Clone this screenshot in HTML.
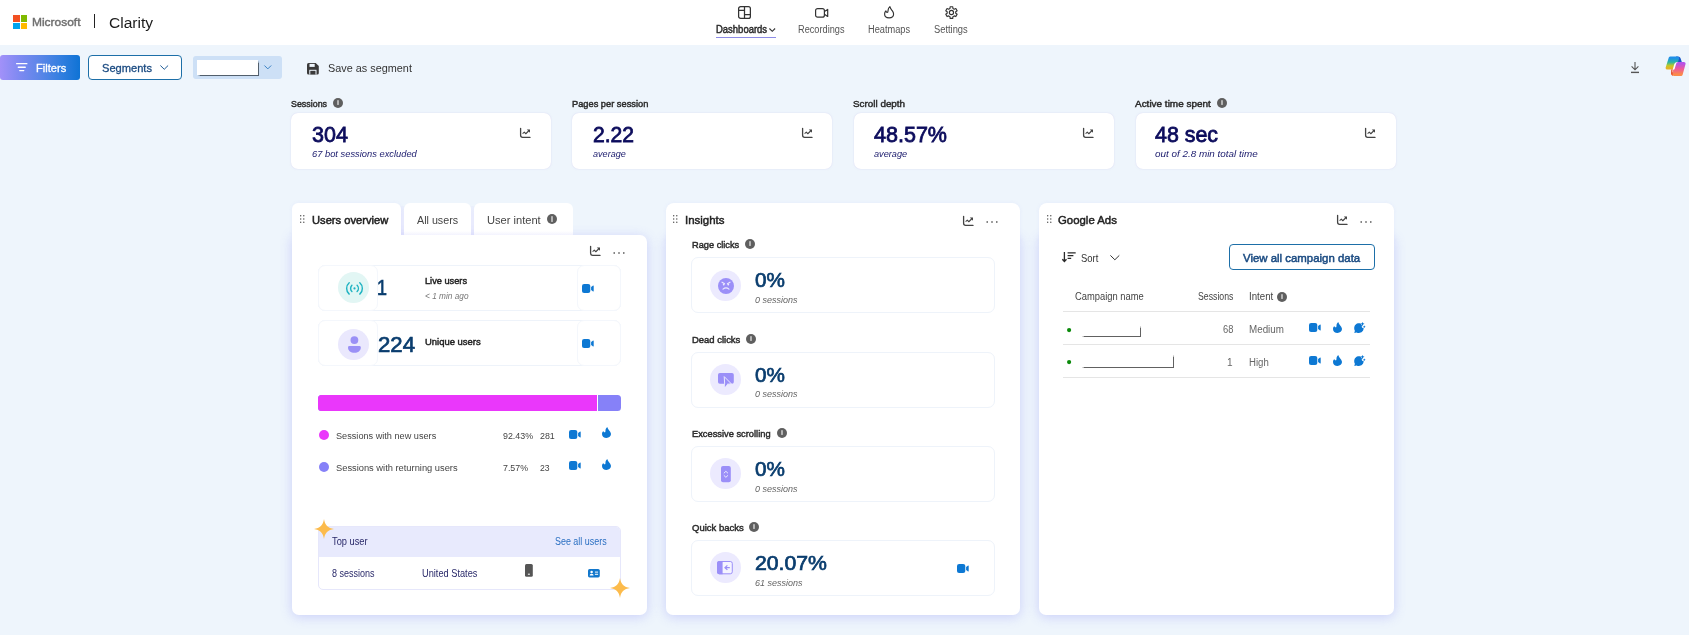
<!DOCTYPE html>
<html><head><meta charset="utf-8"><title>Clarity</title>
<style>
*{box-sizing:border-box;margin:0;padding:0}
html,body{width:1689px;height:635px;overflow:hidden}
body{position:relative;background:#eef5fc;font-family:"Liberation Sans",sans-serif;}
.a{position:absolute}
.t{position:absolute;white-space:nowrap;line-height:1;transform-origin:0 0;}
svg{position:absolute;overflow:visible}
.hdr{left:0;top:0;width:1689px;height:45px;background:#fff}
.stat{top:112.5px;width:259.8px;height:56.8px;background:#fff;border-radius:7px;box-shadow:0 0 1.5px rgba(190,180,230,.55);margin-left:-.3px}
.pbody{background:#fff;box-shadow:0 2px 12px rgba(110,110,245,.28)}
.phead{background:#fff;box-shadow:0 0 4px rgba(110,110,245,.07)}
.tab{top:203px;height:33px;background:#fff;border-radius:6px 6px 0 0;box-shadow:0 0 4px rgba(110,110,245,.07)}
.card{background:#fff;border:1px solid #eef3fa;border-radius:7px}
.circ{width:31px;height:31px;border-radius:50%}
.info{width:10px;height:10px;border-radius:50%;background:#5f5f5f}
.info:after{content:"";position:absolute;left:4px;top:2.2px;width:2px;height:5.3px;background:#b4b4b4;border-radius:.4px}
.hl{height:1px;background:#e5e5e5;left:1063px;width:307px}
.gd{width:4px;height:4px;border-radius:50%;background:#0b8a0b}
.red{background:#fff;box-shadow:.8px .8px 1px rgba(0,0,0,.62)}

.tl{position:absolute;left:0;top:0;width:1689px;height:635px;will-change:transform}

</style></head>
<body>


<!-- header -->
<div class="a hdr"></div>
<div class="a" style="left:13px;top:15px;width:6.7px;height:6.7px;background:#f25022"></div>
<div class="a" style="left:20.7px;top:15px;width:6.7px;height:6.7px;background:#7fba00"></div>
<div class="a" style="left:13px;top:22.6px;width:6.7px;height:6.7px;background:#00a4ef"></div>
<div class="a" style="left:20.7px;top:22.6px;width:6.7px;height:6.7px;background:#ffb900"></div>
<div class="a" style="left:94.2px;top:14px;width:1.2px;height:13.8px;background:#222"></div>
<!-- nav icons -->
<svg style="left:737.5px;top:6.4px" width="13" height="13" viewBox="0 0 13 13" fill="none" stroke="#333" stroke-width="1.25"><rect x=".62" y=".62" width="11.76" height="11.76" rx="2"/><path d="M6.5 .6 V12.4 M.6 4.4 H6.5 M6.5 8.5 H12.4"/></svg>
<svg style="left:814.6px;top:8px" width="13.3" height="9.8" viewBox="0 0 13.3 9.8" fill="none" stroke="#333" stroke-width="1.2" stroke-linejoin="round"><rect x=".6" y=".6" width="8.8" height="8.6" rx="2"/><path d="M9.4 3.6 L12.7 1.4 V8.4 L9.4 6.2"/></svg>
<svg style="left:883.8px;top:6.2px" width="10.2" height="12.5" viewBox="0 0 10.2 12.5" fill="none" stroke="#333" stroke-width="1.15" stroke-linejoin="round"><path d="M5.9 .6 C6.2 2.4 7.3 3.5 8.4 4.9 C9.2 6 9.6 6.9 9.6 8 C9.6 10.3 7.6 11.9 5.1 11.9 C2.6 11.9 .6 10.3 .6 8 C.6 6.8 1.1 5.7 1.9 4.9 C2.1 5.9 2.6 6.4 3.2 6.4 C4.2 6.4 4 5.2 4.1 4.1 C4.2 2.7 4.8 1.5 5.9 .6 Z"/></svg>
<svg style="left:944.7px;top:5.9px" width="12.9" height="13.1" viewBox="0 0 12.9 13.1" fill="none" stroke="#333" stroke-width="1.15" stroke-linejoin="round"><circle cx="6.45" cy="6.55" r="2.1"/><path d="M7.94 2.46 L7.74 0.74 L5.16 0.74 L4.96 2.46 L3.65 3.22 L2.06 2.53 L0.78 4.76 L2.17 5.79 L2.17 7.31 L0.78 8.34 L2.06 10.57 L3.65 9.88 L4.96 10.64 L5.16 12.36 L7.74 12.36 L7.94 10.64 L9.25 9.88 L10.84 10.57 L12.12 8.34 L10.73 7.31 L10.73 5.79 L12.12 4.76 L10.84 2.53 L9.25 3.22 Z"/></svg>
<svg style="left:769.3px;top:27.8px" width="6.5" height="4" viewBox="0 0 6.5 4" fill="none" stroke="#333" stroke-width="1.1"><path d="M.4 .5 L3.25 3.3 L6.1 .5"/></svg>
<div class="a" style="left:716px;top:36.7px;width:60px;height:1.3px;background:#8d8be6"></div>

<!-- toolbar -->
<div class="a" style="left:0;top:55.2px;width:79.5px;height:24.5px;border-radius:3px;background:linear-gradient(90deg,#a291f9 0%,#7d89f1 25%,#5b86e8 50%,#347fe0 75%,#0f73d5 100%)"></div>
<svg style="left:16.3px;top:62.8px" width="11.5" height="8.2" viewBox="0 0 11.5 8.2" fill="#fff"><rect x="0" y="0" width="11.5" height="1.3" rx=".6"/><rect x="1.6" y="3.6" width="8.3" height="1.3" rx=".6"/><rect x="3.1" y="6.9" width="5.3" height="1.3" rx=".6"/></svg>
<div class="a" style="left:88px;top:55px;width:94px;height:25px;border-radius:4px;background:#fff;border:1px solid #1d6fa8"></div>
<svg style="left:159.5px;top:64.8px" width="8.5" height="5" viewBox="0 0 8.5 5" fill="none" stroke="#1b5a96" stroke-width="1"><path d="M.4 .5 L4.25 4.3 L8.1 .5"/></svg>
<div class="a" style="left:193px;top:56px;width:89px;height:23px;border-radius:3px;background:#cde0f6"></div>
<div class="a" style="left:196.6px;top:60.4px;width:61.2px;height:14.2px;background:#fff;box-shadow:.8px .8px 1px rgba(30,40,50,.7)"></div>
<svg style="left:263.7px;top:65px" width="7.6" height="4.6" viewBox="0 0 7.6 4.6" fill="none" stroke="#3b82c4" stroke-width="1"><path d="M.4 .5 L3.8 3.9 L7.2 .5"/></svg>
<svg style="left:307px;top:63px" width="11.8" height="11.5" viewBox="0 0 11.8 11.5"><path d="M1.6 0 H8.7 L11.8 3.1 V9.9 Q11.8 11.5 10.2 11.5 H1.6 Q0 11.5 0 9.9 V1.6 Q0 0 1.6 0 Z" fill="#3a3a3a"/><rect x="2.5" y="0.9" width="5.2" height="3" fill="#eef5fc"/><rect x="2.3" y="6.8" width="7.2" height="4.7" fill="#eef5fc"/><rect x="3.3" y="7.8" width="5.2" height="3.7" fill="#3a3a3a"/></svg>
<svg style="left:1631px;top:61.7px" width="8" height="11.2" viewBox="0 0 8 11.2" fill="none" stroke="#555" stroke-width="1.1"><path d="M4 0 V7.6 M.6 4.4 L4 7.8 L7.4 4.4"/><path d="M0 10.4 H8" stroke-width="1.4"/></svg>
<!-- copilot logo -->
<svg style="left:1664.5px;top:56px" width="21" height="20.3" viewBox="0 0 21 20.3">
<defs>
<linearGradient id="cg1" x1="0" y1="0" x2="0" y2="1"><stop offset="0" stop-color="#1f8fe8"/><stop offset=".42" stop-color="#2bb6a4"/><stop offset=".78" stop-color="#c5c922"/><stop offset="1" stop-color="#e3b327"/></linearGradient>
<linearGradient id="cg2" x1="0" y1="0" x2="0" y2="1"><stop offset="0" stop-color="#b553e8"/><stop offset=".5" stop-color="#ee5a9a"/><stop offset="1" stop-color="#fb8a4a"/></linearGradient>
</defs>
<path d="M13 .6 C14.6 .6 15.4 1.6 15.9 3.2 L16.8 6 H12.4 L11 .6 Z" fill="#1857c9"/>
<path d="M5.4 2.1 H12.4 L9.6 11.9 H2.3 Z" fill="url(#cg1)" stroke="url(#cg1)" stroke-width="3.4" stroke-linejoin="round"/>
<path d="M6.2 13.6 H9 L8 18.4 C7.9 19.4 8.4 19.9 9 20 C7.2 20.1 6.3 19.2 6 17.8 Z" fill="#e8502c"/>
<path d="M12.4 7.6 H18.9 L16 18.3 H9.2 Z" fill="url(#cg2)" stroke="url(#cg2)" stroke-width="3.4" stroke-linejoin="round"/>
<path d="M13 5.9 C11.6 6.3 11.2 7.4 10.7 9.2 L9.6 13 C9.4 13.5 9 13.6 8.4 13.6 L7.4 17 C7.2 15.6 7.4 14.6 7.8 13.4 L9 9 C9.6 6.9 10.4 5.9 13 5.9 Z" fill="#fff"/>
</svg>

<!-- stat cards -->
<div class="a stat" style="left:291px"></div>
<div class="a stat" style="left:572.7px"></div>
<div class="a stat" style="left:854.3px"></div>
<div class="a stat" style="left:1136px"></div>
<svg style="left:519.9px;top:128.2px" width="10.5" height="10" viewBox="0 0 10.5 9.6" preserveAspectRatio="none"><path d="M0.6 0.3 V7 Q0.6 9 2.6 9 H10" fill="none" stroke="#444" stroke-width="1.3" stroke-linecap="round"/><path d="M2.6 5.4 L4.3 4 L5.8 5.5 L9.3 2.2" fill="none" stroke="#444" stroke-width="1.1" stroke-linejoin="round"/><path d="M6.8 1.4 H10 V4.6 Z" fill="#444"/></svg>
<svg style="left:801.6px;top:128.2px" width="10.5" height="10" viewBox="0 0 10.5 9.6" preserveAspectRatio="none"><path d="M0.6 0.3 V7 Q0.6 9 2.6 9 H10" fill="none" stroke="#444" stroke-width="1.3" stroke-linecap="round"/><path d="M2.6 5.4 L4.3 4 L5.8 5.5 L9.3 2.2" fill="none" stroke="#444" stroke-width="1.1" stroke-linejoin="round"/><path d="M6.8 1.4 H10 V4.6 Z" fill="#444"/></svg>
<svg style="left:1083.2px;top:128.2px" width="10.5" height="10" viewBox="0 0 10.5 9.6" preserveAspectRatio="none"><path d="M0.6 0.3 V7 Q0.6 9 2.6 9 H10" fill="none" stroke="#444" stroke-width="1.3" stroke-linecap="round"/><path d="M2.6 5.4 L4.3 4 L5.8 5.5 L9.3 2.2" fill="none" stroke="#444" stroke-width="1.1" stroke-linejoin="round"/><path d="M6.8 1.4 H10 V4.6 Z" fill="#444"/></svg>
<svg style="left:1364.9px;top:128.2px" width="10.5" height="10" viewBox="0 0 10.5 9.6" preserveAspectRatio="none"><path d="M0.6 0.3 V7 Q0.6 9 2.6 9 H10" fill="none" stroke="#444" stroke-width="1.3" stroke-linecap="round"/><path d="M2.6 5.4 L4.3 4 L5.8 5.5 L9.3 2.2" fill="none" stroke="#444" stroke-width="1.1" stroke-linejoin="round"/><path d="M6.8 1.4 H10 V4.6 Z" fill="#444"/></svg>
<div class="a info" style="left:332.7px;top:98px"></div>
<div class="a info" style="left:1217px;top:98px"></div>

<!-- PANEL 1 -->
<div class="a" style="left:400px;top:206px;width:5px;height:29px;background:linear-gradient(180deg,rgba(224,226,251,.3),#e9ebfd 30%)"></div>
<div class="a" style="left:470px;top:206px;width:5px;height:29px;background:linear-gradient(180deg,rgba(224,226,251,.3),#e9ebfd 30%)"></div>
<div class="a tab" style="left:292px;width:109px"></div>
<div class="a pbody" style="left:292px;top:235px;width:355px;height:379.5px;border-radius:0 7px 7px 7px"></div>
<div class="a" style="left:292px;top:210px;width:109px;height:32px;background:#fff"></div>
<div class="a tab"  style="left:404px;width:67px;height:32px;box-shadow:none"></div>
<div class="a tab" style="left:474px;width:99px;height:32px;box-shadow:none"></div>
<div class="a" style="left:404px;top:231px;width:67px;height:4px;background:linear-gradient(180deg,rgba(244,244,255,0),#f3f3fe)"></div>
<div class="a" style="left:474px;top:231px;width:99px;height:4px;background:linear-gradient(180deg,rgba(244,244,255,0),#f3f3fe)"></div>
<svg style="left:299.7px;top:214.9px" width="4.5" height="8" viewBox="0 0 4.5 8"><g fill="#4a4a4a"><circle cx=".7" cy=".7" r=".7"/><circle cx="3.8" cy=".7" r=".7"/><circle cx=".7" cy="4" r=".7"/><circle cx="3.8" cy="4" r=".7"/><circle cx=".7" cy="7.3" r=".7"/><circle cx="3.8" cy="7.3" r=".7"/></g></svg>
<div class="a info" style="left:547px;top:214.1px"></div>
<svg style="left:590px;top:246.2px" width="10.5" height="10" viewBox="0 0 10.5 9.6" preserveAspectRatio="none"><path d="M0.6 0.3 V7 Q0.6 9 2.6 9 H10" fill="none" stroke="#444" stroke-width="1.3" stroke-linecap="round"/><path d="M2.6 5.4 L4.3 4 L5.8 5.5 L9.3 2.2" fill="none" stroke="#444" stroke-width="1.1" stroke-linejoin="round"/><path d="M6.8 1.4 H10 V4.6 Z" fill="#444"/></svg>
<svg style="left:612.7px;top:251.5px" width="12" height="2" fill="#2a2a2a" viewBox="0 0 12 2"><circle cx="1.2" cy="1" r=".82"/><circle cx="6" cy="1" r=".82"/><circle cx="10.8" cy="1" r=".82"/></svg>

<div class="a card" style="left:318px;top:265px;width:303px;height:45.5px"></div>
<div class="a card" style="left:318px;top:320px;width:303px;height:45.5px"></div>
<div class="a card" style="left:318px;top:265px;width:60px;height:45.5px;border-color:#f4f7fc"></div>
<div class="a card" style="left:318px;top:320px;width:60px;height:45.5px;border-color:#f4f7fc"></div>
<div class="a card" style="left:577px;top:265px;width:44px;height:45.5px;border-color:#f4f7fc"></div>
<div class="a card" style="left:577px;top:320px;width:44px;height:45.5px;border-color:#f4f7fc"></div>
<div class="a circ" style="left:338.3px;top:272.4px;background:#e2f6f4"></div>
<div class="a circ" style="left:338.3px;top:328.5px;background:#eae8fd"></div>
<svg style="left:345.5px;top:282.2px" width="17" height="12.8" viewBox="0 0 17 12.8" fill="none" stroke="#1fb3c2" stroke-width="1.45" stroke-linecap="round"><path d="M3.2 .7 C-.2 3.6 -.2 9.2 3.2 12.1"/><path d="M13.8 .7 C17.2 3.6 17.2 9.2 13.8 12.1"/><path d="M5.9 3.3 C4.2 5 4.2 7.8 5.9 9.5"/><path d="M11.1 3.3 C12.8 5 12.8 7.8 11.1 9.5"/><circle cx="8.5" cy="6.4" r="1.1" fill="#1fb3c2" stroke="none"/></svg>
<svg style="left:347.8px;top:335.7px" width="12.8" height="17" viewBox="0 0 12.8 17" fill="#9a90f6"><circle cx="6.4" cy="4.1" r="3.9"/><path d="M1.4 10 H11.4 Q12.8 10 12.8 11.4 C12.8 14.6 10 16.8 6.4 16.8 C2.8 16.8 0 14.6 0 11.4 Q0 10 1.4 10 Z"/></svg>
<svg style="left:582.3px;top:283.5px" width="12" height="9" fill="#0d78d3" viewBox="0 0 12 9"><rect x="0" y="0" width="8.3" height="9" rx="2.1"/><path d="M9.1 3.1 L11.1 1.6 Q11.7 1.3 11.7 2 V7 Q11.7 7.7 11.1 7.4 L9.1 5.9 Z"/></svg>
<svg style="left:582.3px;top:338.5px" width="12" height="9" fill="#0d78d3" viewBox="0 0 12 9"><rect x="0" y="0" width="8.3" height="9" rx="2.1"/><path d="M9.1 3.1 L11.1 1.6 Q11.7 1.3 11.7 2 V7 Q11.7 7.7 11.1 7.4 L9.1 5.9 Z"/></svg>

<div class="a" style="left:318px;top:395px;width:303px;height:16px;border-radius:3.5px;background:#8681f8;overflow:hidden"><div class="a" style="left:0;top:0;width:279px;height:16px;background:#ea37fb;border-right:1px solid #fff;box-sizing:content-box"></div></div>
<div class="a" style="left:318.8px;top:429.7px;width:10px;height:10px;border-radius:50%;background:#ea37fb"></div>
<div class="a" style="left:318.8px;top:461.6px;width:10px;height:10px;border-radius:50%;background:#8681f8"></div>
<svg style="left:569.3px;top:429.8px" width="12" height="9" fill="#0d78d3" viewBox="0 0 12 9"><rect x="0" y="0" width="8.3" height="9" rx="2.1"/><path d="M9.1 3.1 L11.1 1.6 Q11.7 1.3 11.7 2 V7 Q11.7 7.7 11.1 7.4 L9.1 5.9 Z"/></svg>
<svg style="left:569.3px;top:461.3px" width="12" height="9" fill="#0d78d3" viewBox="0 0 12 9"><rect x="0" y="0" width="8.3" height="9" rx="2.1"/><path d="M9.1 3.1 L11.1 1.6 Q11.7 1.3 11.7 2 V7 Q11.7 7.7 11.1 7.4 L9.1 5.9 Z"/></svg>
<svg style="left:602px;top:427.3px" width="9" height="11" fill="#0d78d3" viewBox="0 0 9 11"><path d="M5.3 0 C5.6 1.6 6.6 2.6 7.6 3.9 C8.5 5.1 9 6 9 7.1 C9 9.4 7 11 4.5 11 C2 11 0 9.4 0 7 C0 5.8 0.5 4.8 1.3 4 C1.5 4.9 2 5.3 2.6 5.3 C3.6 5.3 3.4 4.2 3.5 3.2 C3.6 1.9 4.2 0.8 5.3 0 Z"/></svg>
<svg style="left:602px;top:459px" width="9" height="11" fill="#0d78d3" viewBox="0 0 9 11"><path d="M5.3 0 C5.6 1.6 6.6 2.6 7.6 3.9 C8.5 5.1 9 6 9 7.1 C9 9.4 7 11 4.5 11 C2 11 0 9.4 0 7 C0 5.8 0.5 4.8 1.3 4 C1.5 4.9 2 5.3 2.6 5.3 C3.6 5.3 3.4 4.2 3.5 3.2 C3.6 1.9 4.2 0.8 5.3 0 Z"/></svg>

<div class="a" style="left:318px;top:526px;width:303px;height:64px;border-radius:5px;border:1px solid #e6e7fb;background:#fff;overflow:hidden"><div class="a" style="left:0;top:0;width:303px;height:30px;background:#e8eafd"></div></div>
<svg style="left:314.1px;top:519.1px" width="20" height="20" viewBox="0 0 18 18"><path d="M9 0 C9.7 5.4 12.6 8.3 18 9 C12.6 9.7 9.7 12.6 9 18 C8.3 12.6 5.4 9.7 0 9 C5.4 8.3 8.3 5.4 9 0 Z" fill="#fcbb4c"/></svg>
<svg style="left:609.9px;top:577.8px" width="20" height="20" viewBox="0 0 18 18"><path d="M9 0 C9.7 5.4 12.6 8.3 18 9 C12.6 9.7 9.7 12.6 9 18 C8.3 12.6 5.4 9.7 0 9 C5.4 8.3 8.3 5.4 9 0 Z" fill="#fcbb4c"/></svg>
<svg style="left:525.3px;top:564px" width="7.8" height="12.8" viewBox="0 0 7.8 12.8"><rect x="0" y="0" width="7.8" height="12.8" rx="1.5" fill="#555"/><rect x="2.9" y="9.6" width="2" height="1.3" fill="#ddd"/></svg>
<svg style="left:588.2px;top:568.8px" width="11.8" height="8.4" viewBox="0 0 11.8 8.4"><rect x="0" y="0" width="11.8" height="8.4" rx="1.6" fill="#1277cc"/><circle cx="3.6" cy="3" r="1.25" fill="#fff"/><path d="M1.6 6.4 Q1.6 4.8 3.6 4.8 Q5.6 4.8 5.6 6.4 Z" fill="#fff"/><rect x="6.9" y="2.6" width="3.2" height="1" fill="#fff"/><rect x="6.9" y="4.8" width="3.2" height="1" fill="#fff"/></svg>

<!-- PANEL 2 -->
<div class="a phead" style="left:666px;top:203px;width:354px;height:40px;border-radius:8px 8px 0 0"></div>
<div class="a pbody" style="left:666px;top:237px;width:354px;height:377.5px;border-radius:0 0 7px 7px"></div>
<div class="a" style="left:666px;top:210px;width:354px;height:34px;background:#fff"></div>
<svg style="left:672.8px;top:214.9px" width="4.5" height="8" viewBox="0 0 4.5 8"><g fill="#4a4a4a"><circle cx=".7" cy=".7" r=".7"/><circle cx="3.8" cy=".7" r=".7"/><circle cx=".7" cy="4" r=".7"/><circle cx="3.8" cy="4" r=".7"/><circle cx=".7" cy="7.3" r=".7"/><circle cx="3.8" cy="7.3" r=".7"/></g></svg>
<svg style="left:962.8px;top:215.6px" width="10.5" height="10" viewBox="0 0 10.5 9.6" preserveAspectRatio="none"><path d="M0.6 0.3 V7 Q0.6 9 2.6 9 H10" fill="none" stroke="#444" stroke-width="1.3" stroke-linecap="round"/><path d="M2.6 5.4 L4.3 4 L5.8 5.5 L9.3 2.2" fill="none" stroke="#444" stroke-width="1.1" stroke-linejoin="round"/><path d="M6.8 1.4 H10 V4.6 Z" fill="#444"/></svg>
<svg style="left:986.4px;top:220.6px" width="12" height="2" fill="#2a2a2a" viewBox="0 0 12 2"><circle cx="1.2" cy="1" r=".82"/><circle cx="6" cy="1" r=".82"/><circle cx="10.8" cy="1" r=".82"/></svg>
<div class="a info" style="left:744.8px;top:239px"></div>
<div class="a info" style="left:745.9px;top:333.9px"></div>
<div class="a info" style="left:777px;top:428px"></div>
<div class="a info" style="left:749px;top:522px"></div>
<div class="a card" style="left:691px;top:257.3px;width:304px;height:56px"></div>
<div class="a card" style="left:691px;top:351.6px;width:304px;height:56px"></div>
<div class="a card" style="left:691px;top:445.9px;width:304px;height:56px"></div>
<div class="a card" style="left:691px;top:540.2px;width:304px;height:56px"></div>
<div class="a circ" style="left:710px;top:269.6px;background:#eceafe"></div>
<div class="a circ" style="left:710px;top:363.6px;background:#eceafe"></div>
<div class="a circ" style="left:710px;top:458.4px;background:#eceafe"></div>
<div class="a circ" style="left:710px;top:552.4px;background:#eceafe"></div>
<!-- rage face -->
<svg style="left:718px;top:277.8px" width="16" height="16" viewBox="0 0 16 16"><circle cx="8" cy="8" r="8" fill="#9b8ff8"/><g stroke="#eceafe" stroke-width="1.1" fill="none" stroke-linecap="round"><path d="M4 4.2 L6.6 5.8 M12 4.2 L9.4 5.8"/><path d="M5 11.2 Q8 8.6 11 11.2"/></g><circle cx="5.7" cy="6.6" r=".9" fill="#eceafe"/><circle cx="10.3" cy="6.6" r=".9" fill="#eceafe"/></svg>
<!-- dead click -->
<svg style="left:718px;top:373px" width="16" height="14" viewBox="0 0 16 14"><rect x="0" y="0" width="15.8" height="10.7" rx="1.8" fill="#9b8ff8"/><path d="M6.2 3.6 L6.9 14 L9.2 11.2 L13.4 10.9 Z" fill="#9b8ff8" stroke="#eceafe" stroke-width="1" stroke-linejoin="round"/><path d="M6.9 14 L9.2 10.9 L7 10.7 Z" fill="#9b8ff8"/></svg>
<!-- scroll -->
<svg style="left:720.9px;top:466px" width="9.8" height="16.3" viewBox="0 0 9.8 16.3"><rect x="0" y="0" width="9.8" height="16.3" rx="2" fill="#9b8ff8"/><path d="M3.1 7 L4.9 5.3 L6.7 7 M3.1 9.6 L4.9 11.3 L6.7 9.6" stroke="#eceafe" stroke-width="1" fill="none" stroke-linecap="round"/></svg>
<!-- quick back -->
<svg style="left:717.2px;top:561px" width="15.8" height="13.3" viewBox="0 0 15.8 13.3"><rect x=".5" y=".5" width="14.8" height="12.3" rx="2" fill="#f5f4ff" stroke="#9b8ff8" stroke-width="1"/><path d="M2 0 H5.6 V13.3 H2 Q0 13.3 0 11.3 V2 Q0 0 2 0 Z" fill="#9b8ff8"/><path d="M12.8 6.65 H8.4 M10.4 4.4 L8 6.65 L10.4 8.9" stroke="#9b8ff8" stroke-width="1.3" fill="none"/></svg>
<svg style="left:957.4px;top:563.9px" width="12" height="9" fill="#0d78d3" viewBox="0 0 12 9"><rect x="0" y="0" width="8.3" height="9" rx="2.1"/><path d="M9.1 3.1 L11.1 1.6 Q11.7 1.3 11.7 2 V7 Q11.7 7.7 11.1 7.4 L9.1 5.9 Z"/></svg>

<!-- PANEL 3 -->
<div class="a phead" style="left:1039px;top:203px;width:355px;height:40px;border-radius:8px 8px 0 0"></div>
<div class="a pbody" style="left:1039px;top:237px;width:355px;height:377.5px;border-radius:0 0 7px 7px"></div>
<div class="a" style="left:1039px;top:210px;width:355px;height:34px;background:#fff"></div>
<svg style="left:1046.8px;top:214.9px" width="4.5" height="8" viewBox="0 0 4.5 8"><g fill="#4a4a4a"><circle cx=".7" cy=".7" r=".7"/><circle cx="3.8" cy=".7" r=".7"/><circle cx=".7" cy="4" r=".7"/><circle cx="3.8" cy="4" r=".7"/><circle cx=".7" cy="7.3" r=".7"/><circle cx="3.8" cy="7.3" r=".7"/></g></svg>
<svg style="left:1336.7px;top:215.4px" width="10.5" height="10" viewBox="0 0 10.5 9.6" preserveAspectRatio="none"><path d="M0.6 0.3 V7 Q0.6 9 2.6 9 H10" fill="none" stroke="#444" stroke-width="1.3" stroke-linecap="round"/><path d="M2.6 5.4 L4.3 4 L5.8 5.5 L9.3 2.2" fill="none" stroke="#444" stroke-width="1.1" stroke-linejoin="round"/><path d="M6.8 1.4 H10 V4.6 Z" fill="#444"/></svg>
<svg style="left:1360.3px;top:220.6px" width="12" height="2" fill="#2a2a2a" viewBox="0 0 12 2"><circle cx="1.2" cy="1" r=".82"/><circle cx="6" cy="1" r=".82"/><circle cx="10.8" cy="1" r=".82"/></svg>
<svg style="left:1061.7px;top:251.5px" width="13.7" height="10.2" viewBox="0 0 13.7 10.2" fill="none" stroke="#2a2a2a" stroke-width="1.3"><path d="M2.4 0 V9.4 M.3 7.2 L2.4 9.5 L4.5 7.2"/><path d="M5.6 .8 H13.7 M5.6 3.6 H11.4 M5.6 6.4 H9.2"/></svg>
<svg style="left:1109.9px;top:255px" width="9.7" height="5.4" viewBox="0 0 9.7 5.4" fill="none" stroke="#333" stroke-width="1"><path d="M.4 .4 L4.85 4.8 L9.3 .4"/></svg>
<div class="a" style="left:1229px;top:244px;width:146px;height:26px;border-radius:4px;border:1px solid #1d6fa8;background:#fff"></div>
<div class="a info" style="left:1276.8px;top:292px"></div>
<div class="a hl" style="top:311px"></div>
<div class="a hl" style="top:344px"></div>
<div class="a hl" style="top:377px"></div>
<svg style="left:1067.2px;top:327.6px" width="4.2" height="4.2"><circle cx="2.1" cy="2.1" r="2.1" fill="#0b8a0b"/></svg>
<svg style="left:1067.2px;top:360.2px" width="4.2" height="4.2"><circle cx="2.1" cy="2.1" r="2.1" fill="#0b8a0b"/></svg>
<div class="a red" style="left:1080.6px;top:324.6px;width:59px;height:11.6px"></div>
<div class="a red" style="left:1080.6px;top:354.2px;width:92px;height:12.6px"></div>
<svg style="left:1309.1px;top:323px" width="12" height="9" fill="#0d78d3" viewBox="0 0 12 9"><rect x="0" y="0" width="8.3" height="9" rx="2.1"/><path d="M9.1 3.1 L11.1 1.6 Q11.7 1.3 11.7 2 V7 Q11.7 7.7 11.1 7.4 L9.1 5.9 Z"/></svg>
<svg style="left:1309.1px;top:356.1px" width="12" height="9" fill="#0d78d3" viewBox="0 0 12 9"><rect x="0" y="0" width="8.3" height="9" rx="2.1"/><path d="M9.1 3.1 L11.1 1.6 Q11.7 1.3 11.7 2 V7 Q11.7 7.7 11.1 7.4 L9.1 5.9 Z"/></svg>
<svg style="left:1333.3px;top:322px" width="9" height="11" fill="#0d78d3" viewBox="0 0 9 11"><path d="M5.3 0 C5.6 1.6 6.6 2.6 7.6 3.9 C8.5 5.1 9 6 9 7.1 C9 9.4 7 11 4.5 11 C2 11 0 9.4 0 7 C0 5.8 0.5 4.8 1.3 4 C1.5 4.9 2 5.3 2.6 5.3 C3.6 5.3 3.4 4.2 3.5 3.2 C3.6 1.9 4.2 0.8 5.3 0 Z"/></svg>
<svg style="left:1333.3px;top:355.1px" width="9" height="11" fill="#0d78d3" viewBox="0 0 9 11"><path d="M5.3 0 C5.6 1.6 6.6 2.6 7.6 3.9 C8.5 5.1 9 6 9 7.1 C9 9.4 7 11 4.5 11 C2 11 0 9.4 0 7 C0 5.8 0.5 4.8 1.3 4 C1.5 4.9 2 5.3 2.6 5.3 C3.6 5.3 3.4 4.2 3.5 3.2 C3.6 1.9 4.2 0.8 5.3 0 Z"/></svg>
<svg style="left:1354px;top:322px" width="11.5" height="11" fill="#0d78d3" viewBox="0 0 11.5 11"><path d="M4.9 1.3 C5.6 1.3 6.3 1.45 6.9 1.7 L7.4 3.1 L8.9 3.7 L7.6 4.5 L8.3 6 L9.5 5.5 C9.6 5.9 9.6 6.1 9.6 6.3 C9.6 9 7.5 11 4.9 11 C4.1 11 3.3 10.8 2.6 10.4 L0.3 11 L0.9 8.8 C0.5 8.1 0.2 7.2 0.2 6.2 C0.2 3.4 2.3 1.3 4.9 1.3 Z"/><path d="M8.5 -.1 L9.15 1.15 L10.5 1.8 L9.15 2.45 L8.5 3.7 L7.85 2.45 L6.5 1.8 L7.85 1.15 Z"/><path d="M10.3 3.5 L10.75 4.35 L11.6 4.8 L10.75 5.25 L10.3 6.1 L9.85 5.25 L9 4.8 L9.85 4.35 Z"/></svg>
<svg style="left:1354px;top:355.1px" width="11.5" height="11" fill="#0d78d3" viewBox="0 0 11.5 11"><path d="M4.9 1.3 C5.6 1.3 6.3 1.45 6.9 1.7 L7.4 3.1 L8.9 3.7 L7.6 4.5 L8.3 6 L9.5 5.5 C9.6 5.9 9.6 6.1 9.6 6.3 C9.6 9 7.5 11 4.9 11 C4.1 11 3.3 10.8 2.6 10.4 L0.3 11 L0.9 8.8 C0.5 8.1 0.2 7.2 0.2 6.2 C0.2 3.4 2.3 1.3 4.9 1.3 Z"/><path d="M8.5 -.1 L9.15 1.15 L10.5 1.8 L9.15 2.45 L8.5 3.7 L7.85 2.45 L6.5 1.8 L7.85 1.15 Z"/><path d="M10.3 3.5 L10.75 4.35 L11.6 4.8 L10.75 5.25 L10.3 6.1 L9.85 5.25 L9 4.8 L9.85 4.35 Z"/></svg>

<!-- text -->
<div class="tl">
<span class="t" id="t0" style="left:31.50px;top:17.20px;font-size:11px;color:#6f6f6f;-webkit-text-stroke:0.4px #6f6f6f;transform:scaleX(1.0868);">Microsoft</span>
<span class="t" id="t1" style="left:108.90px;top:14.60px;font-size:15.5px;color:#1b1b1b;transform:scaleX(1.0041);">Clarity</span>
<span class="t" id="t2" style="left:716.00px;top:25.20px;font-size:10px;color:#2a2a2a;-webkit-text-stroke:0.45px #2a2a2a;transform:scaleX(0.9477);">Dashboards</span>
<span class="t" id="t3" style="left:797.70px;top:25.20px;font-size:10px;color:#555;transform:scaleX(0.9191);">Recordings</span>
<span class="t" id="t4" style="left:868.40px;top:25.20px;font-size:10px;color:#555;transform:scaleX(0.9237);">Heatmaps</span>
<span class="t" id="t5" style="left:934.10px;top:25.20px;font-size:10px;color:#555;transform:scaleX(0.9325);">Settings</span>
<span class="t" id="t6" style="left:36.10px;top:62.80px;font-size:10.5px;color:#fff;-webkit-text-stroke:0.3px #fff;transform:scaleX(1.0562);">Filters</span>
<span class="t" id="t7" style="left:102.00px;top:62.60px;font-size:10.5px;color:#1b4b82;-webkit-text-stroke:0.3px #1b4b82;transform:scaleX(1.0575);">Segments</span>
<span class="t" id="t8" style="left:327.70px;top:62.90px;font-size:10.7px;color:#333;transform:scaleX(1.0160);">Save as segment</span>
<span class="t" id="t9" style="left:290.50px;top:99.20px;font-size:9.7px;color:#2a2a2a;-webkit-text-stroke:0.45px #2a2a2a;transform:scaleX(0.9157);">Sessions</span>
<span class="t" id="t10" style="left:571.60px;top:99.20px;font-size:9.7px;color:#2a2a2a;-webkit-text-stroke:0.45px #2a2a2a;transform:scaleX(0.9573);">Pages per session</span>
<span class="t" id="t11" style="left:853.40px;top:99.20px;font-size:9.7px;color:#2a2a2a;-webkit-text-stroke:0.45px #2a2a2a;transform:scaleX(1.0181);">Scroll depth</span>
<span class="t" id="t12" style="left:1135.20px;top:99.20px;font-size:9.7px;color:#2a2a2a;-webkit-text-stroke:0.45px #2a2a2a;transform:scaleX(1.0276);">Active time spent</span>
<span class="t" id="t13" style="left:311.60px;top:124.10px;font-size:22.5px;color:#0c0c5c;-webkit-text-stroke:0.8px #0c0c5c;transform:scaleX(0.9561);">304</span>
<span class="t" id="t14" style="left:592.50px;top:124.10px;font-size:22.5px;color:#0c0c5c;-webkit-text-stroke:0.8px #0c0c5c;transform:scaleX(0.9384);">2.22</span>
<span class="t" id="t15" style="left:874.00px;top:124.10px;font-size:22.5px;color:#0c0c5c;-webkit-text-stroke:0.8px #0c0c5c;transform:scaleX(0.9566);">48.57%</span>
<span class="t" id="t16" style="left:1155.40px;top:124.10px;font-size:22.5px;color:#0c0c5c;-webkit-text-stroke:0.8px #0c0c5c;transform:scaleX(0.9503);">48 sec</span>
<span class="t" id="t17" style="left:311.60px;top:149.10px;font-size:9.4px;color:#1a1a6c;font-style:italic;transform:scaleX(0.9954);">67 bot sessions excluded</span>
<span class="t" id="t18" style="left:592.50px;top:149.10px;font-size:9.4px;color:#1a1a6c;font-style:italic;transform:scaleX(0.9678);">average</span>
<span class="t" id="t19" style="left:874.00px;top:149.10px;font-size:9.4px;color:#1a1a6c;font-style:italic;transform:scaleX(0.9796);">average</span>
<span class="t" id="t20" style="left:1155.40px;top:149.10px;font-size:9.4px;color:#1a1a6c;font-style:italic;transform:scaleX(1.0538);">out of 2.8 min total time</span>
<span class="t" id="t21" style="left:311.60px;top:214.80px;font-size:11px;color:#222;-webkit-text-stroke:0.5px #222;transform:scaleX(1.0135);">Users overview</span>
<span class="t" id="t22" style="left:417.00px;top:214.80px;font-size:11px;color:#444;transform:scaleX(0.9742);">All users</span>
<span class="t" id="t23" style="left:487.30px;top:214.80px;font-size:11px;color:#444;transform:scaleX(1.0093);">User intent</span>
<span class="t" id="t24" style="left:376.80px;top:277.30px;font-size:22px;color:#0a3d6e;-webkit-text-stroke:0.7px #0a3d6e;transform:scaleX(0.8163);">1</span>
<span class="t" id="t25" style="left:378.00px;top:333.80px;font-size:22px;color:#0a3d6e;-webkit-text-stroke:0.7px #0a3d6e;transform:scaleX(1.0077);">224</span>
<span class="t" id="t26" style="left:425.30px;top:276.00px;font-size:9.5px;color:#222;-webkit-text-stroke:0.45px #222;transform:scaleX(0.9697);">Live users</span>
<span class="t" id="t27" style="left:425.30px;top:292.00px;font-size:8.6px;color:#777;font-style:italic;transform:scaleX(0.9633);">&lt; 1 min ago</span>
<span class="t" id="t28" style="left:425.30px;top:337.20px;font-size:9.5px;color:#222;-webkit-text-stroke:0.45px #222;transform:scaleX(0.9949);">Unique users</span>
<span class="t" id="t29" style="left:335.80px;top:430.80px;font-size:9.6px;color:#444;transform:scaleX(0.9539);">Sessions with new users</span>
<span class="t" id="t30" style="left:502.90px;top:430.80px;font-size:9.6px;color:#444;transform:scaleX(0.9248);">92.43%</span>
<span class="t" id="t31" style="left:540.00px;top:430.80px;font-size:9.6px;color:#444;transform:scaleX(0.9241);">281</span>
<span class="t" id="t32" style="left:335.80px;top:463.00px;font-size:9.6px;color:#444;transform:scaleX(0.9704);">Sessions with returning users</span>
<span class="t" id="t33" style="left:502.90px;top:463.00px;font-size:9.6px;color:#444;transform:scaleX(0.9190);">7.57%</span>
<span class="t" id="t34" style="left:540.00px;top:463.00px;font-size:9.6px;color:#444;transform:scaleX(0.8996);">23</span>
<span class="t" id="t35" style="left:331.50px;top:537.00px;font-size:10px;color:#2a2a6a;transform:scaleX(0.9281);">Top user</span>
<span class="t" id="t36" style="left:555.30px;top:537.00px;font-size:10px;color:#2a6fc2;transform:scaleX(0.8925);">See all users</span>
<span class="t" id="t37" style="left:331.50px;top:569.00px;font-size:10px;color:#2a2a6a;transform:scaleX(0.8995);">8 sessions</span>
<span class="t" id="t38" style="left:421.50px;top:569.00px;font-size:10px;color:#2a2a6a;transform:scaleX(0.9226);">United States</span>
<span class="t" id="t39" style="left:684.90px;top:215.00px;font-size:11px;color:#222;-webkit-text-stroke:0.45px #222;transform:scaleX(1.0390);">Insights</span>
<span class="t" id="t40" style="left:691.60px;top:240.20px;font-size:9.7px;color:#2a2a2a;-webkit-text-stroke:0.45px #2a2a2a;transform:scaleX(0.9529);">Rage clicks</span>
<span class="t" id="t41" style="left:691.60px;top:334.50px;font-size:9.7px;color:#2a2a2a;-webkit-text-stroke:0.45px #2a2a2a;transform:scaleX(0.9751);">Dead clicks</span>
<span class="t" id="t42" style="left:691.60px;top:428.80px;font-size:9.7px;color:#2a2a2a;-webkit-text-stroke:0.45px #2a2a2a;transform:scaleX(0.9604);">Excessive scrolling</span>
<span class="t" id="t43" style="left:691.60px;top:523.10px;font-size:9.7px;color:#2a2a2a;-webkit-text-stroke:0.45px #2a2a2a;transform:scaleX(0.9798);">Quick backs</span>
<span class="t" id="t44" style="left:754.50px;top:270.30px;font-size:20.5px;color:#0a3d6e;-webkit-text-stroke:0.7px #0a3d6e;transform:scaleX(1.0088);">0%</span>
<span class="t" id="t45" style="left:754.50px;top:364.60px;font-size:20.5px;color:#0a3d6e;-webkit-text-stroke:0.7px #0a3d6e;transform:scaleX(1.0088);">0%</span>
<span class="t" id="t46" style="left:754.50px;top:458.90px;font-size:20.5px;color:#0a3d6e;-webkit-text-stroke:0.7px #0a3d6e;transform:scaleX(1.0088);">0%</span>
<span class="t" id="t47" style="left:754.50px;top:553.20px;font-size:20.5px;color:#0a3d6e;-webkit-text-stroke:0.7px #0a3d6e;transform:scaleX(1.0355);">20.07%</span>
<span class="t" id="t48" style="left:754.50px;top:295.00px;font-size:9.5px;color:#666;font-style:italic;transform:scaleX(0.9467);">0 sessions</span>
<span class="t" id="t49" style="left:754.50px;top:389.30px;font-size:9.5px;color:#666;font-style:italic;transform:scaleX(0.9467);">0 sessions</span>
<span class="t" id="t50" style="left:754.50px;top:483.60px;font-size:9.5px;color:#666;font-style:italic;transform:scaleX(0.9467);">0 sessions</span>
<span class="t" id="t51" style="left:754.50px;top:577.90px;font-size:9.5px;color:#666;font-style:italic;transform:scaleX(0.9448);">61 sessions</span>
<span class="t" id="t52" style="left:1058.40px;top:215.00px;font-size:11px;color:#222;-webkit-text-stroke:0.45px #222;transform:scaleX(1.0356);">Google Ads</span>
<span class="t" id="t53" style="left:1081.30px;top:253.50px;font-size:10.3px;color:#333;transform:scaleX(0.9158);">Sort</span>
<span class="t" id="t54" style="left:1243.30px;top:252.60px;font-size:11.3px;color:#1b4b82;-webkit-text-stroke:0.5px #1b4b82;transform:scaleX(1.0105);">View all campaign data</span>
<span class="t" id="t55" style="left:1074.70px;top:291.70px;font-size:10px;color:#444;transform:scaleX(0.9363);">Campaign name</span>
<span class="t" id="t56" style="left:1197.50px;top:291.70px;font-size:10px;color:#444;transform:scaleX(0.8724);">Sessions</span>
<span class="t" id="t57" style="left:1249.20px;top:291.70px;font-size:10px;color:#444;transform:scaleX(0.9668);">Intent</span>
<span class="t" id="t58" style="left:1222.50px;top:324.60px;font-size:10px;color:#666;transform:scaleX(0.9348);">68</span>
<span class="t" id="t59" style="left:1249.20px;top:324.60px;font-size:10px;color:#666;transform:scaleX(0.9809);">Medium</span>
<span class="t" id="t60" style="left:1227.30px;top:357.70px;font-size:10px;color:#666;transform:scaleX(1.0067);">1</span>
<span class="t" id="t61" style="left:1249.20px;top:357.70px;font-size:10px;color:#666;transform:scaleX(0.9622);">High</span>
</div>
</body></html>
